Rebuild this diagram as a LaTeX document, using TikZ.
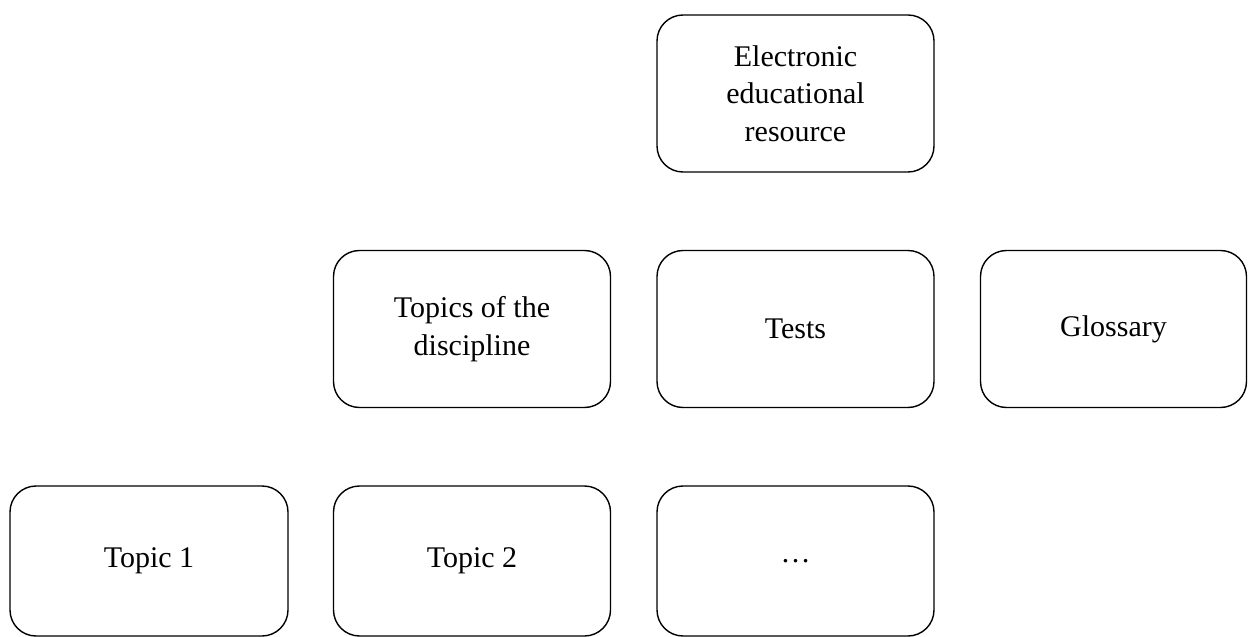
\documentclass[tikz,border=0pt]{standalone}
\usepackage{fontspec}
\setmainfont{Liberation Serif}
\usepackage{tikz}
\usetikzlibrary{positioning, calc}

\begin{document}
\begin{tikzpicture}[
  x=1bp, y=-1bp,
  every node/.style={font=\fontsize{30bp}{37.5bp}\selectfont},
  part/.style={draw, line width=1.4bp, rounded corners=26bp, align=center,
               minimum width=277bp, minimum height=157bp, inner sep=0pt}
]
\useasboundingbox (0,0) rectangle (1248,637);

% top level
\node[part] (eer) at (795.5, 93.5) {Electronic\\educational\\resource};

% second level
\node[part] (topics) at (472, 329) {Topics of the\\discipline};
\node[part] (tests) at (795.5, 329) {Tests};
\node[part, minimum width=266bp] (gloss) at (1113.5, 329) {Glossary};

% third level
\node[part, minimum width=278bp, minimum height=150bp] (topic1) at (149, 561) {Topic 1};
\node[part, minimum height=150bp] (topic2) at (472, 561) {Topic 2};
\node[part, minimum height=150bp] (more) at (795.5, 561) {\dots};

\end{tikzpicture}
\end{document}
